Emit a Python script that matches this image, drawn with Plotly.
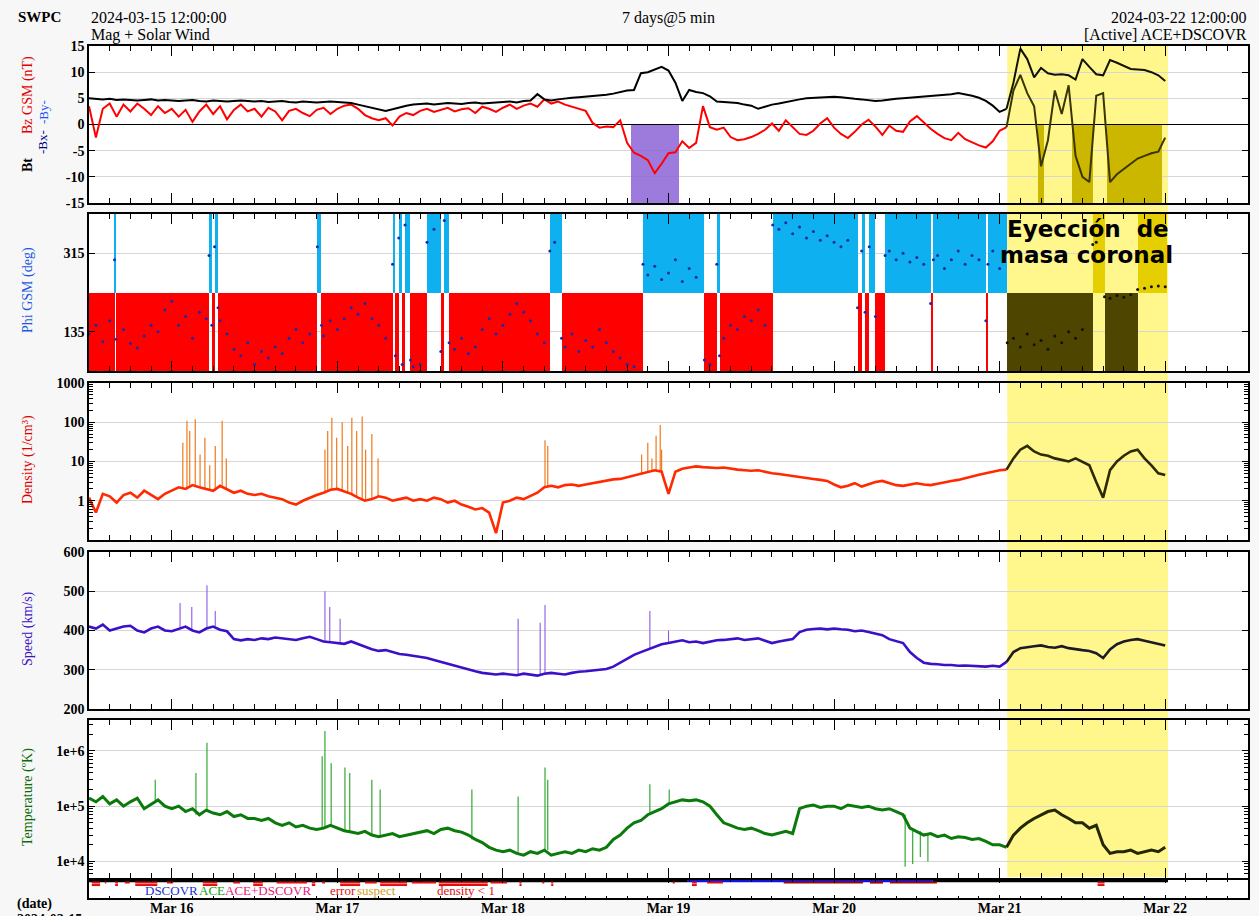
import pandas as pd
import plotly.graph_objects as go

# ---------------- data (hourly from 2024-03-15 12:00 UTC) ----------------
T0 = pd.Timestamp("2024-03-15 12:00:00")
CME_START_H = 133.1
CME_END_H = 156.4

bt_nT = [5.0,4.9,4.8,4.9,4.7,4.8,4.7,4.6,4.7,4.8,4.6,4.7,
         4.6,4.5,4.6,4.7,4.5,4.4,4.6,4.5,4.4,4.5,4.6,4.5,
         4.4,4.5,4.3,4.4,4.5,4.3,4.2,4.4,4.3,4.2,4.3,4.4,
         4.3,4.2,4.1,3.8,3.5,3.2,3.0,2.6,2.9,3.3,3.6,3.8,
         3.9,4.0,3.8,4.0,4.1,4.0,3.9,4.1,4.2,4.0,4.1,4.2,
         4.3,4.4,4.2,4.5,4.6,5.8,4.8,4.6,4.8,5.0,5.1,5.2,
         5.3,5.4,5.5,5.7,5.9,6.2,6.5,6.6,9.8,10.0,10.5,11.0,
         10.3,8.0,4.5,6.6,6.2,6.0,5.4,4.4,4.3,4.2,4.1,3.8,
         3.6,3.0,3.4,3.8,4.0,4.3,4.6,4.8,5.0,5.1,5.2,5.3,
         5.3,5.2,5.0,4.9,4.8,4.6,4.5,4.6,4.8,4.9,5.0,5.1,
         5.2,5.4,5.5,5.6,5.7,5.8,6.0,5.8,5.5,5.1,4.5,3.6,
         2.4,3.0,8.0,14.5,12.5,9.0,10.8,9.8,9.5,9.6,9.4,8.6,
         12.5,11.0,9.6,9.4,12.3,11.8,11.2,10.6,10.5,10.4,10.0,9.4,8.3]

bz_nT = [3.5,-2.5,3.0,4.0,1.5,3.8,2.5,4.0,3.0,1.8,3.5,2.2,
         3.0,1.5,2.8,0.5,2.5,3.8,2.0,3.5,1.0,2.8,3.8,2.5,
         3.0,1.5,3.2,2.5,0.8,2.6,3.0,2.2,1.6,2.8,3.2,2.0,
         3.0,3.6,3.8,3.0,1.8,1.2,0.8,1.2,-0.2,1.5,2.2,1.8,
         2.6,3.0,2.4,2.8,3.2,2.5,2.9,3.1,2.2,3.4,3.0,2.4,
         3.2,3.8,3.0,3.6,4.0,3.4,4.8,4.0,4.4,3.8,3.4,2.9,
         2.6,0.3,-0.6,-0.4,-0.5,0.8,-3.5,-5.4,-6.0,-6.8,-9.3,-7.5,
         -5.5,-5.3,-3.2,-4.5,-3.5,3.5,-0.5,-1.0,-0.6,-2.4,-3.0,-2.8,
         -2.4,-1.8,-1.0,0.2,-1.2,0.8,-0.5,-1.8,-2.0,-1.2,0.2,1.2,
         -0.6,-1.8,-2.6,-1.4,0.0,0.9,-0.4,-2.0,-0.2,-1.2,-1.4,0.6,
         1.6,0.4,-0.8,-1.8,-2.6,-3.0,-1.6,-2.8,-3.4,-4.0,-4.4,-3.2,
         -1.2,-0.5,6.5,9.5,6.0,3.5,-8.0,-3.0,6.5,2.0,7.5,-6.0,
         -10.0,-11.0,5.5,6.0,-11.0,-9.5,-8.5,-7.5,-6.5,-6.0,-5.5,-5.2,-2.5]

density_cm3 = [1.2,0.5,1.5,1.3,0.9,1.4,1.6,1.2,1.8,1.4,1.1,1.5,
               1.8,2.2,2.0,2.5,2.2,2.0,1.8,2.4,2.0,1.6,1.8,1.5,
               1.4,1.5,1.3,1.2,1.1,0.9,0.8,1.0,1.2,1.4,1.6,1.9,
               2.0,1.7,1.5,1.2,1.0,1.1,1.3,1.2,1.0,1.1,1.2,1.0,
               1.1,1.0,1.2,1.1,0.9,1.0,0.8,0.7,0.6,0.65,0.5,0.15,
               0.9,1.0,1.2,1.1,1.3,1.6,2.2,2.4,2.2,2.5,2.6,2.4,
               2.6,2.8,3.0,3.2,3.5,3.6,4.0,4.5,5.0,5.5,6.0,5.5,
               1.5,5.5,6.5,7.0,7.5,7.2,7.0,6.8,7.0,6.5,6.2,6.0,
               5.8,6.0,5.5,5.0,4.8,4.5,4.2,4.0,3.8,3.6,3.4,3.2,
               2.6,2.2,2.4,2.8,2.3,2.6,3.0,3.2,2.8,2.5,2.4,2.6,
               2.8,2.6,2.5,2.7,3.0,3.2,3.4,3.8,4.2,4.6,5.0,5.5,
               6.0,6.2,12,20,25,18,15,14,12,11,10,12,
               10,8,3.0,1.2,6,10,14,18,20,12,8,5,4.5]

speed_kms = [410,405,415,400,405,410,412,400,395,405,410,400,
             398,405,410,400,395,405,410,402,398,378,375,378,
             376,380,378,382,380,378,376,380,384,378,372,370,
             368,366,372,365,360,352,348,350,345,340,338,335,
             332,330,325,320,316,310,305,300,296,292,290,288,
             290,288,286,290,288,285,290,292,290,288,292,295,
             296,298,300,302,308,318,330,338,345,352,360,365,
             368,372,375,370,372,368,372,375,376,378,380,376,
             378,380,374,368,372,375,378,396,402,404,405,403,
             405,403,402,398,400,396,392,388,378,372,368,345,
             330,318,315,314,312,312,310,311,310,309,308,310,
             308,320,345,355,358,360,362,358,356,360,355,352,
             350,348,342,330,352,365,372,376,378,374,370,366,362]

temperature_K = [1.4e5,1.2e5,1.5e5,1.1e5,1.3e5,1.0e5,1.2e5,1.4e5,9e4,1.1e5,1.3e5,1.0e5,
                 9e4,1.0e5,8e4,9e4,7e4,8.5e4,7.5e4,7e4,8e4,6.5e4,7e4,6e4,
                 6e4,5.5e4,6e4,5e4,4.5e4,5e4,4.2e4,4.5e4,4e4,3.8e4,4e4,4.5e4,
                 4e4,3.6e4,3.4e4,3.2e4,3.5e4,3e4,2.8e4,3e4,3.2e4,2.8e4,3.0e4,3.2e4,
                 3.4e4,3.6e4,3.2e4,3.8e4,4e4,3.6e4,3.4e4,3e4,2.5e4,2.2e4,1.8e4,1.6e4,
                 1.5e4,1.6e4,1.4e4,1.3e4,1.5e4,1.4e4,1.6e4,1.3e4,1.4e4,1.5e4,1.4e4,1.6e4,
                 1.5e4,1.7e4,1.6e4,1.8e4,2.5e4,3e4,4e4,5e4,5.5e4,7e4,8e4,9e4,
                 1.1e5,1.2e5,1.3e5,1.25e5,1.3e5,1.2e5,1.0e5,7e4,5e4,4.5e4,4e4,3.8e4,
                 4e4,3.6e4,3.2e4,3.0e4,3.2e4,3.5e4,3.2e4,9e4,1.0e5,1.05e5,9.5e4,1.0e5,
                 1.0e5,9e4,1.05e5,1.0e5,9.5e4,1.0e5,9e4,8.5e4,9e4,8e4,7e4,4e4,
                 3.5e4,3e4,3.2e4,2.8e4,3.0e4,2.6e4,2.8e4,2.7e4,2.5e4,2.6e4,2.3e4,2.0e4,
                 2.0e4,1.8e4,3.0e4,4e4,5e4,6e4,7e4,8e4,8.5e4,7e4,6e4,5e4,
                 5e4,4e4,4.5e4,2e4,1.4e4,1.5e4,1.5e4,1.6e4,1.4e4,1.5e4,1.6e4,1.5e4,1.8e4]

# (hour, phi deg)
phi_samples = [(0,130),(1,150),(2,112),(3,160),(3.7,300),(3.9,118),(5,140),(6,108),(7,98),(8,125),
    (9,150),(10,135),(11,185),(12,205),(13,150),(14,170),(15,120),(16,180),(17,165),(17.4,310),
    (17.8,150),(18.2,330),(18.7,190),(19,160),(20,130),(21,95),(22,80),(23,110),(24,60),(25,90),
    (26,75),(27,100),(28,85),(29,120),(30,140),(31,110),(32,130),(33.1,330),(33.7,150),(34,125),
    (35,160),(36,140),(37,165),(38,190),(39,175),(40,200),(41,165),(42,150),(43,120),(44,290),
    (44.4,80),(44.9,350),(45.4,60),(45.8,380),(46.6,70),(47,55),(48,60),(49,340),(50,370),(51,90),
    (51.5,390),(52.2,110),(53,95),(54,120),(55,85),(56,100),(57,140),(58,165),(59,130),(60,150),
    (61,175),(62,200),(63,180),(64,160),(65,130),(66,110),(66.8,320),(67.5,340),(68.5,120),(69,100),
    (70,130),(71,90),(72,115),(73,100),(74,140),(75,110),(76,90),(77,75),(78,60),(79,55),
    (80.3,290),(81,265),(82,285),(83,255),(84,270),(85,300),(86,250),(87,280),(88,260),(89.2,70),
    (90,60),(91,290),(91.4,80),(92,120),(93,150),(94,140),(95,170),(96,160),(97,185),(98,150),
    (99.1,380),(100,370),(101,385),(102,360),(103,375),(104,350),(105,365),(106,345),(107,355),(108,340),
    (109,330),(110,345),(111.4,190),(112,320),(112.5,180),(113.1,330),(114,170),(115.4,310),(116,320),(117,300),
    (118,315),(119,295),(120,305),(121,290),(122,200),(122.4,300),(123,310),(124,280),(125,300),(126,320),
    (127,290),(128,310),(129,300),(130,160),(130.3,290),(131,320),(132,280),(133.1,110),(134,120),(135,100),
    (136,130),(137,105),(138,115),(139,95),(140,125),(141,110),(142,135),(143,120),(144,140),(145.5,335),
    (146,340),(147.2,215),(148,212),(149,218),(150,214),(151,220),(152,232),(153,235),(154,238),(155,240),
    (156,238)]
PHI_LAST_END_H = 156.3

# suspect spikes (hour, value)
density_spikes = [(13.6,30),(14.2,110),(14.6,60),(15.4,120),(16.1,15),(16.8,40),(17.5,8),(18.3,25),
                  (19.3,110),(19.9,12),(34.2,20),(34.6,60),(35.2,130),(35.9,40),(36.7,100),(37.5,25),
                  (38.1,130),(38.8,60),(39.6,140),(40.1,20),(41.0,50),(41.9,12),(66.1,35),(66.5,25),
                  (80.1,15),(81.0,30),(81.6,12),(82.2,45),(82.8,85),(83.0,20)]
speed_spikes = [(13.2,470),(14.9,460),(17.1,515),(18.3,450),(34.2,500),(34.9,460),(36.4,430),
                (62.2,430),(65.4,420),(66.1,465),(81.3,450),(84.0,400)]
temperature_spikes = [(9.6,3e5),(15.5,4e5),(17.1,1.4e6),(33.8,8e5),(34.2,2.3e6),(35.1,6e5),(37.1,5e5),
                      (37.8,4e5),(41.0,3e5),(42.2,2e5),(55.5,2e5),(62.2,1.5e5),(66.1,5e5),(66.5,3e5),
                      (81.3,2.5e5),(84.1,2e5),(118.3,8e3),(119.4,9e3),(120.5,1.2e4),(121.6,1e4)]

# status bar: source segments (start h, end h, colour) and flag segments
source_segments = [(0, 86.8, "black"), (86.8, 122.3, "#1010e0"), (122.3, 156.4, "black")]
error_segments = [(0.4,1.6),(2.3,2.5),(3.8,4.2),(5.2,5.9),(6.7,9.9),(11.3,12.2),(16.5,18.6),(20.9,21.9),
                  (23.8,25.2),(27.2,31.6),(32.3,32.8),(33.8,34.2),(36.4,39.3),(40.0,41.7),(42.2,46.1),
                  (46.8,50.3),(50.7,57.8),(58.2,60.6),(62.4,62.7),(65.7,66.0),(67.0,67.3),(84.6,84.9),
                  (87.4,88.1),(89.6,91.9),(146.2,147.2)]
suspect_segments = [(100.7,112.2),(113.2,115.1),(116.1,122.9)]

# ---------------- layout geometry ----------------
W, H = 1259, 916
ML, MR, MT, MB = 89, 11, 46, 18
PW, PH = W - ML - MR, H - MT - MB

def xp(px):
    return (px - ML) / PW

def yp(py):
    return (H - MB - py) / PH

def ts(h):
    return T0 + pd.Timedelta(hours=float(h))

SERIF = "Liberation Serif"
HOURS = list(range(len(bt_nT)))
CME_IDX = 133

domains = {
    1: [yp(203), yp(46)],
    2: [yp(371), yp(214)],
    3: [yp(540), yp(383)],
    4: [yp(709), yp(552)],
    5: [yp(878), yp(720)],
    6: [0.0, yp(880)],
}

fig = go.Figure()

def ax(k):
    return ("x" if k == 1 else f"x{k}"), ("y" if k == 1 else f"y{k}")

def add_line(vals, k, col_pre, col_cme, width):
    xa, ya = ax(k)
    for idx, col in (([i for i in HOURS if i <= CME_IDX], col_pre),
                     ([i for i in HOURS if i >= CME_IDX], col_cme)):
        fig.add_trace(go.Scatter(x=[ts(i) for i in idx], y=[vals[i] for i in idx], mode="lines",
                                 line=dict(color=col, width=width), xaxis=xa, yaxis=ya,
                                 hoverinfo="skip", showlegend=False))

def add_spikes(spikes, base_vals, k, col, col_cme, width):
    xa, ya = ax(k)
    for sel, c in ((lambda h: h < CME_START_H, col), (lambda h: h >= CME_START_H, col_cme)):
        xs, ys = [], []
        for h, v in spikes:
            if sel(h):
                b = base_vals[int(round(h))]
                xs += [ts(h), ts(h), None]
                ys += [b, v, None]
        if xs:
            fig.add_trace(go.Scatter(x=xs, y=ys, mode="lines", line=dict(color=c, width=width),
                                     xaxis=xa, yaxis=ya, hoverinfo="skip", showlegend=False))

# ---- panel 1: southward Bz shading, Bz, Bt
south = [i for i in HOURS if bz_nT[i] < -5]
fig.add_trace(go.Bar(x=[ts(i) for i in south], y=[0 - (-15)] * len(south), base=-15,
                     width=3600000,
                     marker=dict(color=["#cbb600" if i >= CME_IDX else "rgba(140,100,215,0.85)" for i in south],
                                 line=dict(width=0)),
                     xaxis="x", yaxis="y", hoverinfo="skip", showlegend=False))
add_line(bz_nT, 1, "#ff0000", "#3a3600", 2.0)
add_line(bt_nT, 1, "#000000", "#141200", 2.0)

# ---- panel 2: phi sectors + dots
phi_h = [p[0] for p in phi_samples]
phi_v = [p[1] for p in phi_samples]
bx, bw, bb, bc = [], [], [], []
for i, h in enumerate(phi_h):
    h_end = phi_h[i + 1] if i + 1 < len(phi_h) else PHI_LAST_END_H
    away = phi_v[i] >= 225
    in_cme = h >= CME_START_H
    bx.append(ts((h + h_end) / 2))
    bw.append((h_end - h) * 3600000)
    bb.append(225 if away else 45)
    if in_cme:
        bc.append("#e6cf00" if away else "#4d4500")
    else:
        bc.append("#0fb0f0" if away else "#ff0000")
fig.add_trace(go.Bar(x=bx, y=[180] * len(bx), base=bb, width=bw,
                     marker=dict(color=bc, line=dict(width=0)),
                     xaxis="x2", yaxis="y2", hoverinfo="skip", showlegend=False))
fig.add_trace(go.Scatter(x=[ts(h) for h in phi_h], y=phi_v, mode="markers",
                         marker=dict(size=3, color=["#111111" if h >= CME_START_H else "#1c2aa8" for h in phi_h]),
                         xaxis="x2", yaxis="y2", hoverinfo="skip", showlegend=False))

# ---- panel 3: density
add_spikes(density_spikes, density_cm3, 3, "#ee7a1c", "#3a3000", 1.2)
add_line(density_cm3, 3, "#ff2a00", "#2e2a00", 2.6)

# ---- panel 4: speed
add_spikes(speed_spikes, speed_kms, 4, "#8a5ae6", "#2a2030", 1.1)
add_line(speed_kms, 4, "#3c10c8", "#1e1a28", 2.6)

# ---- panel 5: temperature
add_spikes(temperature_spikes, temperature_K, 5, "#22a022", "#2a3000", 1.1)
add_line(temperature_K, 5, "#0a7a0a", "#222800", 3.0)

# ---- panel 6: status bar
for s, e, c in source_segments:
    fig.add_trace(go.Scatter(x=[ts(s), ts(e)], y=[0.96, 0.96], mode="lines", line=dict(color=c, width=3),
                             xaxis="x6", yaxis="y6", hoverinfo="skip", showlegend=False))
ex, ey = [], []
for s, e in error_segments:
    ex += [ts(s), ts(e), None]
    ey += [0.86, 0.86, None]
fig.add_trace(go.Scatter(x=ex, y=ey, mode="lines", line=dict(color="#e01010", width=2),
                         xaxis="x6", yaxis="y6", hoverinfo="skip", showlegend=False))
ex2, ey2 = [], []
for s, e in error_segments[::2]:
    ex2 += [ts(s), ts(e), None]
    ey2 += [0.72, 0.72, None]
fig.add_trace(go.Scatter(x=ex2, y=ey2, mode="lines", line=dict(color="#e01010", width=2),
                         xaxis="x6", yaxis="y6", hoverinfo="skip", showlegend=False))
sx, sy = [], []
for s, e in suspect_segments:
    sx += [ts(s), ts(e), None]
    sy += [0.86, 0.86, None]
fig.add_trace(go.Scatter(x=sx, y=sy, mode="lines", line=dict(color="#9a0a0a", width=2.2),
                         xaxis="x6", yaxis="y6", hoverinfo="skip", showlegend=False))

# ---------------- axes ----------------
tickfont = dict(family=SERIF, size=14, color="black", weight="bold")
xbase = dict(type="date", range=[ts(0), ts(168)], showline=True, linecolor="black", linewidth=1.5,
             mirror="ticks", ticks="inside", ticklen=10, tickwidth=1.2, tickcolor="black",
             dtick=86400000, tick0="2024-03-16", showgrid=False, zeroline=False, automargin=False,
             minor=dict(ticks="inside", ticklen=5, dtick=3 * 3600000, tick0="2024-03-16",
                        tickcolor="black", tickwidth=1, showgrid=False),
             showticklabels=False, tickfont=tickfont, tickformat="%b %-d")
ybase = dict(showline=True, linecolor="black", linewidth=1.5, mirror="ticks", ticks="inside",
             ticklen=6, tickwidth=1.2, tickcolor="black", tickfont=tickfont, automargin=False,
             showgrid=True, gridcolor="#d6d6d6", gridwidth=1, zeroline=False)

layout_axes = {}
for k in range(1, 7):
    xname = "xaxis" if k == 1 else f"xaxis{k}"
    yname = "yaxis" if k == 1 else f"yaxis{k}"
    xd = dict(xbase, anchor=("y" if k == 1 else f"y{k}"))
    if k > 1:
        xd["matches"] = "x"
    if k == 6:
        xd.update(showticklabels=True, ticklen=3, ticklabelstandoff=-4,
                  minor=dict(ticks="inside", ticklen=2, dtick=3 * 3600000, tick0="2024-03-16",
                             tickcolor="black", showgrid=False))
    layout_axes[xname] = xd
    yd = dict(ybase, domain=domains[k], anchor=("x" if k == 1 else f"x{k}"))
    layout_axes[yname] = yd

bz_ticks = [-15, -10, -5, 0, 5, 10, 15]
layout_axes["yaxis"].update(range=[-15, 15], tickvals=bz_ticks, ticktext=[str(v) for v in bz_ticks],
                            zeroline=True, zerolinecolor="black", zerolinewidth=1.2)
layout_axes["yaxis2"].update(range=[45, 405], tickvals=[135, 315], ticktext=["135", "315"])
log_minor_d = [m * 10 ** e for e in range(-1, 3) for m in range(2, 10)]
layout_axes["yaxis3"].update(type="log", range=[-1, 3], tickvals=[1, 10, 100, 1000],
                             ticktext=["1", "10", "100", "1000"],
                             minor=dict(tickvals=log_minor_d, ticks="inside", ticklen=4,
                                        tickcolor="black", showgrid=False))
layout_axes["yaxis4"].update(range=[200, 600], tickvals=[200, 300, 400, 500, 600],
                             ticktext=["200", "300", "400", "500", "600"])
log_minor_t = [m * 10 ** e for e in range(3, 7) for m in range(2, 10)]
layout_axes["yaxis5"].update(type="log", range=[3.7, 6.56], tickvals=[1e4, 1e5, 1e6],
                             ticktext=["1e+4", "1e+5", "1e+6"],
                             minor=dict(tickvals=log_minor_t, ticks="inside", ticklen=4,
                                        tickcolor="black", showgrid=False))
layout_axes["yaxis6"].update(range=[0, 1], showgrid=False, ticks="", showticklabels=False)

# ---------------- shapes (yellow CME window) ----------------
shapes = [dict(type="rect", xref="x", yref="paper", x0=ts(CME_START_H), x1=ts(CME_END_H),
               y0=yp(877), y1=yp(44), fillcolor="#fff68c", line=dict(width=0), layer="below")]

# ---------------- annotations ----------------
def ann(text, x, y, size=16, color="black", xanchor="left", yanchor="middle", angle=0,
        family=SERIF, weight="normal"):
    return dict(text=text, x=xp(x), y=yp(y), xref="paper", yref="paper", showarrow=False,
                xanchor=xanchor, yanchor=yanchor, textangle=angle,
                font=dict(family=family, size=size, color=color, weight=weight))

annotations = [
    ann("SWPC", 16, 17, 15, weight="bold"),
    ann("2024-03-15 12:00:00", 89, 18, 16),
    ann("Mag + Solar Wind", 89, 35, 16),
    ann("7 days@5 min", 668, 18, 16, xanchor="center"),
    ann("2024-03-22 12:00:00", 1249, 18, 16, xanchor="right"),
    ann("[Active] ACE+DSCOVR", 1249, 35, 16, xanchor="right"),
    ann("Bz GSM (nT)", 28, 95, 14, "#e00000", "center", angle=-90),
    ann("Bt", 28, 165, 14, "black", "center", angle=-90, weight="bold"),
    ann("-By-", 43, 112, 13, "#1a55ff", "center", angle=-90),
    ann("-Bx-", 43, 142, 13, "#00008b", "center", angle=-90),
    ann("Phi GSM (deg)", 28, 290, 14, "#1a5ae0", "center", angle=-90),
    ann("Density (1/cm³)", 28, 460, 14, "#e00000", "center", angle=-90),
    ann("Speed (km/s)", 28, 629, 14, "#3c14c8", "center", angle=-90),
    ann("Temperature (ºK)", 28, 797, 14, "#0a6a0a", "center", angle=-90),
    ann("DSCOVR", 143, 890, 13, "#2030d0"),
    ann("ACE", 197, 890, 13, "#10a010"),
    ann("ACE+DSCOVR", 223, 890, 13, "#e8207a"),
    ann("error", 328, 890, 13, "#e01010"),
    ann("suspect", 355, 890, 13, "#d4a020"),
    ann("density < 1", 435, 890, 13, "#e01010"),
    ann("(date)", 15, 904, 14, weight="bold"),
    ann("2024-03-15", 15, 910, 14, yanchor="top", weight="bold"),
    ann("Eyección  de", 1088, 229, 23, "black", "center", family="DejaVu Sans", weight="bold"),
    ann("masa coronal", 1086, 255, 23, "black", "center", family="DejaVu Sans", weight="bold"),
]

fig.update_layout(
    template="none",
    width=W, height=H, margin=dict(l=ML, r=MR, t=MT, b=MB, pad=0, autoexpand=False),
    paper_bgcolor="#f7f7f7", plot_bgcolor="white",
    barmode="overlay", bargap=0, showlegend=False,
    font=dict(family=SERIF, size=14, color="black"),
    shapes=shapes, annotations=annotations, **layout_axes,
)

fig.write_html("out.html", config={"displayModeBar": False},
               post_script="document.body.style.margin='0';document.body.style.overflow='hidden';")
